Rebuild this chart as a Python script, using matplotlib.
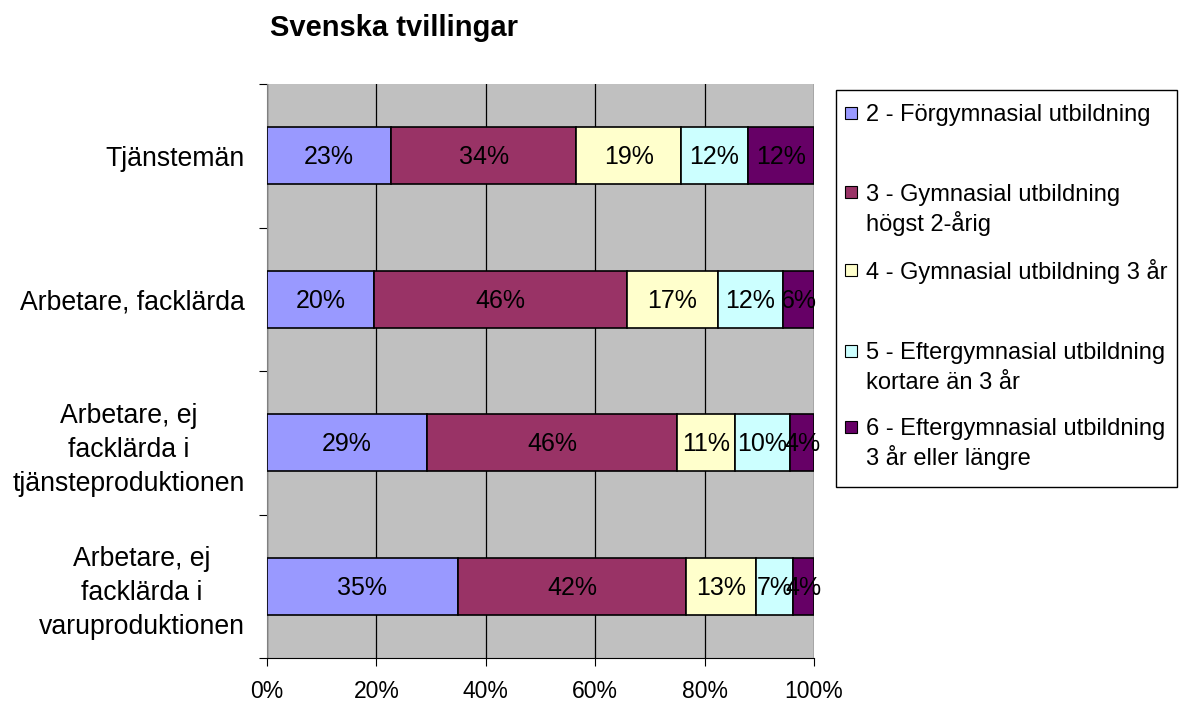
import matplotlib
matplotlib.use("Agg")
import matplotlib.pyplot as plt
from matplotlib.patches import Rectangle
import numpy as np

plt.rcParams['font.family'] = ['Liberation Sans', 'DejaVu Sans']

categories = ["Tjänstemän", "Arbetare, facklärda",
              "Arbetare, ej\nfacklärda i\ntjänsteproduktionen",
              "Arbetare, ej\nfacklärda i\nvaruproduktionen"]
series_names = ["2 - Förgymnasial utbildning",
                "3 - Gymnasial utbildning\nhögst 2-årig",
                "4 - Gymnasial utbildning 3 år",
                "5 - Eftergymnasial utbildning\nkortare än 3 år",
                "6 - Eftergymnasial utbildning\n3 år eller längre"]
s2 = [22.7, 19.6, 29.3, 34.9]
s3 = [33.8, 46.2, 45.7, 41.7]
s4 = [19.2, 16.6, 10.6, 12.8]
s5 = [12.2, 11.9, 10.0, 6.8]
s6 = [12.1, 5.7, 4.4, 3.8]
series = [s2, s3, s4, s5, s6]
colors = ["#9999FF", "#993366", "#FFFFCC", "#CCFFFF", "#660066"]
xticklabels = ["0%", "20%", "40%", "60%", "80%", "100%"]

fig = plt.figure(figsize=(11.81, 7.02), dpi=100)
ax = fig.add_axes([267/1181, 1-658/702, (814-267)/1181, (658-84)/702])
ax.set_facecolor("#C0C0C0")

y = np.arange(len(categories))
left = np.zeros(len(categories))
for vals, col in zip(series, colors):
    vals = np.array(vals)
    ax.barh(y, vals, left=left, height=0.4, color=col,
            edgecolor="black", linewidth=1.2, zorder=3)
    for yi, l, v in zip(y, left, vals):
        ax.text(l + v/2, yi + 0.012, f"{round(v):.0f}%", ha="center", va="center",
                fontsize=18, color="black", zorder=4)
    left += vals

ax.set_xlim(0, 100)
ax.set_ylim(len(categories) - 0.5, -0.5)
ax.set_xticks(np.arange(0, 101, 20))
ax.set_xticklabels(xticklabels, fontsize=16.5)
ax.xaxis.grid(True, color="black", linewidth=0.9, zorder=1)
ax.set_axisbelow(True)
ax.set_yticks(y)
ax.set_yticklabels(categories, fontsize=19.2, multialignment="center",
                   linespacing=1.4)
ax.tick_params(axis="y", length=0, pad=16)
ax.set_yticks(np.arange(-0.5, len(categories), 1), minor=True)
ax.tick_params(axis="y", which="minor", length=6, width=0.8, direction="out")
ax.tick_params(axis="x", length=6, width=0.8, direction="out", pad=10)
for side in ["top", "right"]:
    ax.spines[side].set_visible(False)
ax.spines["left"].set_color("#808080")
ax.spines["bottom"].set_color("black")

fig.text(270/1181, 1-28/702, "Svenska tvillingar", fontsize=21, fontweight="bold",
         ha="left", va="center")

# Legend box drawn manually
lx0, ly0, lx1, ly1 = 836, 90, 1177, 487
fig.patches.append(Rectangle((lx0/1181, 1-ly1/702), (lx1-lx0)/1181, (ly1-ly0)/702,
                             transform=fig.transFigure, facecolor="white",
                             edgecolor="black", linewidth=1))
entry_y = [113, 192, 270, 351, 427]
line_px = 30
for name, col, ey in zip(series_names, colors, entry_y):
    fig.patches.append(Rectangle((845/1181, 1-(ey+6)/702), 12/1181, 12/702,
                                 transform=fig.transFigure, facecolor=col,
                                 edgecolor="black", linewidth=0.8))
    for i, line in enumerate(name.split("\n")):
        fig.text(866/1181, 1-(ey+8.5+i*line_px)/702, line, fontsize=17,
                 ha="left", va="baseline")

fig.savefig("out.png", dpi=100)
